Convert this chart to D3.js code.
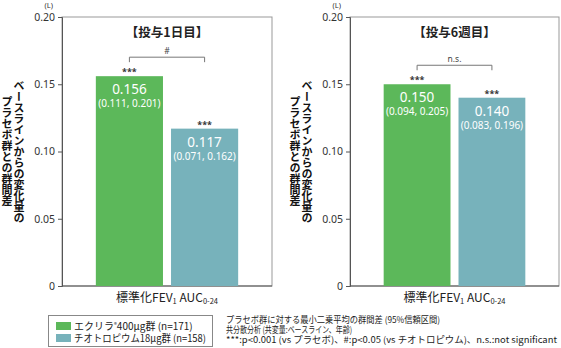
<!DOCTYPE html>
<html><head><meta charset="utf-8">
<script src="https://cdn.jsdelivr.net/npm/d3@7"></script>
<style>
html,body{margin:0;padding:0;background:#fff;}
svg{display:block;}
text{font-family:"Noto Sans","Noto Sans CJK JP",sans-serif;}
.jp{font-family:"Noto Sans CJK JP","Noto Sans",sans-serif;}
</style></head>
<body>
<script>
// ---- data ----
const panelTitles = ["【投与1日目】", "【投与6週目】"];
const groupNames = ["エクリラ®400μg群 (n=171)", "チオトロピウム18μg群 (n=158)"];
const groupKeys = ["aclidinium", "tiotropium"];
const day1Estimates = [0.156, 0.117];
const day1CILow = [0.111, 0.071];
const day1CIHigh = [0.201, 0.162];
const week6Estimates = [0.150, 0.140];
const week6CILow = [0.094, 0.083];
const week6CIHigh = [0.205, 0.196];
const vsPlaceboMarks = ["***", "***"];
const betweenGroupMarks = ["#", "n.s."];
const yTickValues = [0, 0.05, 0.10, 0.15, 0.20];
const yTickLabels = ["0", "0.05", "0.10", "0.15", "0.20"];
const yUnit = "(L)";
const yTitleLines = ["ベースラインからの変化量の", "プラセボ群との群間差"];
const notes = [
  "プラセボ群に対する最小二乗平均の群間差 (95%信頼区間)",
  "共分散分析 (共変量:ベースライン、年齢)",
  "***:p<0.001 (vs プラセボ)、#:p<0.05 (vs チオトロピウム)、n.s.:not significant"
];
const colors = ["#5cb85a", "#77b2bb"];

const panels = [
  {title: panelTitles[0], est: day1Estimates, lo: day1CILow, hi: day1CIHigh, cmp: betweenGroupMarks[0]},
  {title: panelTitles[1], est: week6Estimates, lo: week6CILow, hi: week6CIHigh, cmp: betweenGroupMarks[1]}
];

// ---- layout ----
const W = 561, H = 348;
const plotTop = 17, plotBottom = 286;
const panelX = [[62, 272], [350, 559]];
const noteWidths = [214, 126, 331];

const svg = d3.select("body").append("svg").attr("width", W).attr("height", H);
const fmt3 = d3.format(".3f");

panels.forEach((p, i) => {
  const [x0, x1] = panelX[i];
  const y = d3.scaleLinear().domain([0, 0.20]).range([plotBottom, plotTop]);
  const x = d3.scaleBand().domain(groupKeys).range([x0, x1]).paddingInner(0.107).paddingOuter(0.45);
  const g = svg.append("g");

  // frame
  g.append("rect").attr("x", x0).attr("y", plotTop).attr("width", x1 - x0).attr("height", plotBottom - plotTop)
    .attr("fill", "none").attr("stroke", "#999").attr("stroke-width", 1);

  // y axis
  const yAxis = d3.axisLeft(y).tickValues(yTickValues)
    .tickFormat((d, k) => yTickLabels[k]).tickSize(4).tickPadding(3);
  const ya = g.append("g").attr("transform", `translate(${x0},0)`).call(yAxis);
  ya.select(".domain").attr("stroke", "#555");
  ya.selectAll(".tick line").attr("stroke", "#555");
  ya.selectAll(".tick text").attr("fill", "#333").style("font-size", "10.5px").attr("font-family", "Noto Sans");

  // bottom axis line
  g.append("line").attr("x1", x0).attr("x2", x1).attr("y1", plotBottom).attr("y2", plotBottom)
    .attr("stroke", "#555").attr("stroke-width", 1);

  // unit
  g.append("text").attr("x", x0 - 9).attr("y", 8).attr("text-anchor", "end")
    .style("font-size", "7.5px").attr("fill", "#333").text(yUnit);

  // title
  g.append("text").attr("class", "jp").attr("x", (x0 + x1) / 2).attr("y", 37).attr("text-anchor", "middle")
    .style("font-size", "12.5px").style("font-weight", "bold").attr("fill", "#222").text(p.title);

  // bars
  g.selectAll("rect.bar").data(groupKeys).join("rect").attr("class", "bar")
    .attr("x", d => x(d)).attr("width", x.bandwidth())
    .attr("y", (d, k) => y(p.est[k])).attr("height", (d, k) => plotBottom - y(p.est[k]))
    .attr("fill", (d, k) => colors[k]);

  // value labels
  groupKeys.forEach((key, k) => {
    const cx = x(key) + x.bandwidth() / 2;
    const yt = y(p.est[k]);
    g.append("text").attr("x", cx).attr("y", yt + 18).attr("text-anchor", "middle")
      .style("font-size", "13.5px").attr("fill", "#fff").text(fmt3(p.est[k]));
    g.append("text").attr("x", cx).attr("y", yt + 31).attr("text-anchor", "middle")
      .style("font-size", "10px").attr("fill", "#fff")
      .text(`(${fmt3(p.lo[k])}, ${fmt3(p.hi[k])})`);
    g.append("text").attr("x", cx).attr("y", yt - 1).attr("text-anchor", "middle")
      .style("font-size", "9px").style("font-weight", "bold").attr("fill", "#333").text(vsPlaceboMarks[k]);
  });

  // bracket
  const cxs = groupKeys.map(key => x(key) + x.bandwidth() / 2);
  const by = y(d3.max(p.est)) - 19;
  g.append("path")
    .attr("d", `M${cxs[0]},${by + 5}V${by}H${cxs[1]}V${by + 5}`)
    .attr("fill", "none").attr("stroke", "#777").attr("stroke-width", 1);
  g.append("text").attr("x", (cxs[0] + cxs[1]) / 2).attr("y", by - 3).attr("text-anchor", "middle")
    .style("font-size", "8.5px").attr("fill", "#444").text(p.cmp);

  // y title (vertical Japanese, two columns)
  const midY = (plotTop + plotBottom) / 2;
  const colX = [x0 - 43, x0 - 55];
  yTitleLines.forEach((line, k) => {
    g.append("text").attr("class", "jp")
      .attr("x", colX[k]).attr("y", midY)
      .attr("text-anchor", "middle")
      .style("writing-mode", "vertical-rl")
      .style("font-size", "11px").style("font-weight", "bold").attr("fill", "#111")
      .text(line);
  });

  // x label
  const xl = g.append("text").attr("class", "jp").attr("x", (x0 + x1) / 2).attr("y", 302)
    .attr("text-anchor", "middle").style("font-size", "12px").attr("fill", "#222");
  xl.append("tspan").text("標準化FEV");
  xl.append("tspan").style("font-size", "7.5px").attr("dy", 1.5).text("1");
  xl.append("tspan").attr("dy", -1.5).text(" AUC");
  xl.append("tspan").style("font-size", "7.5px").attr("dy", 1.5).text("0-24");
});

// legend
const lg = svg.append("g");
lg.append("rect").attr("x", 48.5).attr("y", 315.5).attr("width", 164).attr("height", 31)
  .attr("fill", "#fff").attr("stroke", "#888").attr("stroke-width", 1);
groupNames.forEach((name, k) => {
  lg.append("rect").attr("x", 56).attr("y", 322 + k * 12).attr("width", 15).attr("height", 8).attr("fill", colors[k]);
});
const lt = lg.append("text").attr("class", "jp").style("font-size", "10px").attr("fill", "#222");
groupNames.forEach((name, k) => {
  const yy = 330 + k * 12;
  if (name.includes("®")) {
    const [a, b] = name.split("®");
    lt.append("tspan").attr("x", 74).attr("y", yy).text(a);
    lt.append("tspan").style("font-size", "6px").attr("dy", -3).text("®");
    lt.append("tspan").attr("dy", 3).text(b);
  } else {
    lt.append("tspan").attr("x", 74).attr("y", yy)
      .attr("textLength", 132).attr("lengthAdjust", "spacingAndGlyphs").text(name);
  }
});

// notes (one multi-line text block)
const nt = svg.append("text").attr("class", "jp").style("font-size", "9px").attr("fill", "#222");
notes.forEach((n, k) => {
  nt.append("tspan").attr("x", 226).attr("y", 323 + k * 10)
    .attr("textLength", noteWidths[k]).attr("lengthAdjust", "spacingAndGlyphs").text(n);
});
</script>
</body></html>
